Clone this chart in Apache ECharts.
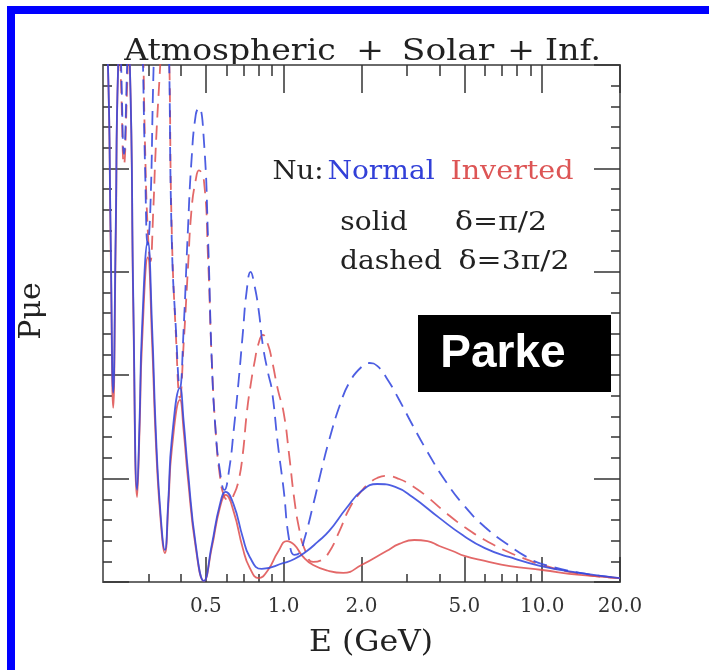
<!DOCTYPE html>
<html>
<head>
<meta charset="utf-8">
<script src="https://cdn.jsdelivr.net/npm/echarts@6/dist/echarts.min.js"></script>
<style>
  html, body { margin: 0; padding: 0; background: #fff; }
  #chart { width: 709px; height: 670px; }
</style>
</head>
<body>
<div id="chart"></div>
<script>
// Energy axis ticks (GeV)
const energyMajorTicks = [0.5, 1, 2, 5, 10, 20];
const energyMinorTicks = [0.3, 0.4, 0.6, 0.7, 0.8, 0.9, 3, 4, 6, 7, 8, 9];

// Normal hierarchy, delta = pi/2 (solid)
const eNormalSolid = [0.200,0.209,0.214,0.219,0.224,0.229,0.241,0.254,0.262,0.271,0.277,0.283,0.298,0.310,0.320,0.333,0.347,0.358,0.369,0.397,0.410,0.426,0.457,0.491,0.527,0.566,0.597,0.641,0.694,0.739,0.822,1.0,1.1,1.23,1.35,1.5,1.75,2.0,2.3,2.7,3.15,4.0,4.92,6.0,7.44,9.88,13.9,20];
const pNormalSolid = [0.30,0.25,0.170,0.0915,0.170,0.25,0.30,0.25,0.136,0.0445,0.078,0.122,0.1645,0.122,0.0735,0.035,0.0155,0.040,0.0687,0.0939,0.078,0.054,0.0179,0.0005,0.0179,0.0373,0.0436,0.0373,0.0218,0.0121,0.0063,0.0092,0.0111,0.015,0.0193,0.0247,0.0358,0.044,0.0474,0.046,0.0411,0.031,0.0227,0.0164,0.0121,0.0077,0.0044,0.0019];

// Inverted hierarchy, delta = pi/2 (solid)
const eInvertedSolid = [0.200,0.209,0.214,0.219,0.224,0.229,0.241,0.254,0.262,0.271,0.277,0.283,0.298,0.310,0.320,0.333,0.347,0.358,0.369,0.397,0.410,0.426,0.457,0.491,0.527,0.566,0.597,0.641,0.694,0.739,0.80,0.87,0.95,1.03,1.1,1.19,1.3,1.5,1.7,2.0,2.5,2.8,3.2,3.6,4.0,4.5,5.0,6.0,7.5,10,14,20];
const pInvertedSolid = [0.30,0.25,0.165,0.0842,0.165,0.25,0.30,0.25,0.1316,0.0411,0.0736,0.1147,0.157,0.1147,0.0687,0.0324,0.014,0.0373,0.0639,0.0881,0.0736,0.0503,0.0165,0.0005,0.0165,0.0358,0.0421,0.0339,0.0165,0.0068,0.0019,0.0058,0.0145,0.0198,0.0179,0.0121,0.0082,0.0053,0.0044,0.0082,0.015,0.0184,0.0203,0.0198,0.0174,0.015,0.0126,0.0102,0.0077,0.0058,0.0034,0.0019];

// Energy grid shared by the dashed curves (delta = 3pi/2)
const eDashed = [0.200,0.209,0.219,0.229,0.235,0.241,0.248,0.254,0.271,0.283,0.291,0.298,0.305,0.313,0.320,0.333,0.347,0.358,0.369,0.383,0.397,0.410,0.426,0.440,0.457,0.470,0.491,0.510,0.527,0.545,0.566,0.590,0.615,0.641,0.670,0.694,0.720,0.745,0.770,0.800,0.830,0.870,0.900,0.950,1.0,1.05,1.10,1.15,1.2,1.3,1.4,1.5,1.65,1.8,2.0,2.15,2.3,2.5,2.8,3.15,3.6,4.2,5.0,6.0,7.4,9.0,10,14,20];
const pNormalDashed = [0.30,0.33,0.34,0.29,0.25,0.207,0.25,0.29,0.34,0.27,0.20,0.163,0.181,0.243,0.28,0.31,0.31,0.27,0.1655,0.122,0.0939,0.122,0.170,0.204,0.226,0.2294,0.214,0.1655,0.107,0.0736,0.0542,0.0445,0.0542,0.0736,0.0978,0.1195,0.1413,0.150,0.1437,0.1316,0.1147,0.1011,0.0929,0.0663,0.0445,0.0203,0.0131,0.014,0.0203,0.0372,0.0542,0.0687,0.0856,0.0967,0.104,0.1059,0.1045,0.0987,0.088,0.0759,0.0629,0.0493,0.0368,0.0266,0.0179,0.0111,0.0087,0.0044,0.0019];
const pInvertedDashed = [0.29,0.32,0.33,0.28,0.24,0.2018,0.24,0.28,0.33,0.28,0.21,0.17,0.155,0.18,0.21,0.25,0.29,0.27,0.17,0.119,0.089,0.1147,0.151,0.180,0.1945,0.199,0.1945,0.156,0.107,0.0736,0.0518,0.0411,0.0397,0.0421,0.0494,0.0614,0.0818,0.0953,0.1058,0.1155,0.1195,0.1147,0.1074,0.0929,0.0818,0.0614,0.0397,0.0252,0.0165,0.0097,0.0106,0.0145,0.0251,0.0358,0.044,0.0479,0.0503,0.0513,0.0498,0.0464,0.0411,0.0339,0.0266,0.0203,0.0145,0.0102,0.0082,0.0039,0.0019];

const BLUE = 'rgba(52, 72, 222, 0.88)';
const RED = 'rgba(222, 78, 78, 0.85)';
const SERIF = '"DejaVu Serif", "Liberation Serif", serif';
const AXIS_GRAY = '#6a6a6a';
const TICK_COLOR = '#333';

const zip = (xs, ys) => xs.map((x, i) => [x, ys[i]]);

function energyAxis(position, ticks, tickLen, withLine, withLabels) {
  return {
    type: 'log',
    logBase: 10,
    min: 0.2,
    max: 20,
    position: position,
    gridIndex: 0,
    axisLine: { show: withLine, onZero: false, lineStyle: { color: AXIS_GRAY, width: 2 } },
    axisTick: { show: true, inside: true, length: tickLen, customValues: ticks,
                lineStyle: { color: TICK_COLOR, width: 1.5 } },
    axisLabel: withLabels ? {
      show: true, customValues: energyMajorTicks, margin: 15,
      fontFamily: SERIF, fontSize: 20, color: '#333',
      formatter: v => Number(v).toFixed(1)
    } : { show: false },
    minorTick: { show: false },
    splitLine: { show: false }
  };
}

function probAxis(position, withLine) {
  return {
    type: 'value',
    min: 0,
    max: 0.25,
    interval: 0.05,
    position: position,
    gridIndex: 0,
    axisLine: { show: withLine, lineStyle: { color: AXIS_GRAY, width: 2 } },
    axisTick: { show: true, inside: true, length: 26, lineStyle: { color: TICK_COLOR, width: 1.5 } },
    minorTick: { show: true, splitNumber: 5, length: 9, lineStyle: { color: TICK_COLOR, width: 1.5 } },
    axisLabel: { show: false },
    splitLine: { show: false }
  };
}

function curve(name, data, color, dashed) {
  return {
    name: name,
    type: 'line',
    xAxisIndex: 0,
    yAxisIndex: 0,
    data: data,
    showSymbol: false,
    smooth: 0.5,
    clip: true,
    lineStyle: { color: color, width: 1.8, type: dashed ? [14, 8] : 'solid' },
    emphasis: { disabled: true },
    z: dashed ? 2 : 3
  };
}

function label(text, x, y, size, fill, sx) {
  return {
    type: 'text', x: x, y: y, scaleX: sx || 1,
    style: { text: text, font: size + 'px ' + SERIF, fill: fill, align: 'center', verticalAlign: 'middle' }
  };
}

const chart = echarts.init(document.getElementById('chart'), null, { renderer: 'canvas' });

chart.setOption({
  backgroundColor: '#ffffff',
  animation: false,
  grid: { left: 103, right: 89, top: 65, bottom: 88, containLabel: false },
  xAxis: [
    energyAxis('bottom', energyMajorTicks, 25, true, true),
    energyAxis('bottom', energyMinorTicks, 8, false, false),
    energyAxis('top', energyMajorTicks, 28, true, false),
    energyAxis('top', energyMinorTicks, 11, false, false)
  ],
  yAxis: [
    probAxis('left', true),
    probAxis('right', true)
  ],
  series: [
    curve('Inverted, δ=3π/2', zip(eDashed, pInvertedDashed), RED, true),
    curve('Normal, δ=3π/2', zip(eDashed, pNormalDashed), BLUE, true),
    curve('Inverted, δ=π/2', zip(eInvertedSolid, pInvertedSolid), RED, false),
    curve('Normal, δ=π/2', zip(eNormalSolid, pNormalSolid), BLUE, false)
  ],
  graphic: [
    // slide frame
    { type: 'rect', shape: { x: 7, y: 6, width: 702, height: 8 }, style: { fill: '#0000ff' }, silent: true },
    { type: 'rect', shape: { x: 7, y: 6, width: 8, height: 664 }, style: { fill: '#0000ff' }, silent: true },

    // title words
    label('Atmospheric', 230, 52, 30, '#222', 1.1),
    label('+', 370, 52, 30, '#222', 1.1),
    label('Solar', 448, 52, 30, '#222', 1.15),
    label('+', 521, 52, 30, '#222', 1.1),
    label('Inf.', 573, 52, 30, '#222', 1.1),

    // key
    label('Nu:', 298, 172, 26, '#222', 1.06),
    label('Normal', 381, 172, 26, '#3240d8', 1.08),
    label('Inverted', 512, 172, 26, '#dd5555', 1.1),
    label('solid', 374, 223, 26, '#222', 1.08),
    label('δ=π/2', 501, 223, 26, '#222', 1.15),
    label('dashed', 391, 262, 26, '#222', 1.08),
    label('δ=3π/2', 514, 262, 26, '#222', 1.15),

    // name tag
    { type: 'rect', shape: { x: 418, y: 315, width: 193, height: 77 }, style: { fill: '#000' }, z: 10 },
    { type: 'text', x: 503, y: 354, z: 11, style: { text: 'Parke', font: 'bold 46px "Liberation Sans", Arial, sans-serif', fill: '#fff', align: 'center', verticalAlign: 'middle' } },

    // axis names
    { type: 'text', x: 32, y: 311, rotation: Math.PI / 2, style: { text: 'Pμe', font: '30px ' + SERIF, fill: '#222', align: 'center', verticalAlign: 'middle' } },
    label('E (GeV)', 371, 643, 30, '#222', 1.05)
  ]
});
</script>
</body>
</html>
